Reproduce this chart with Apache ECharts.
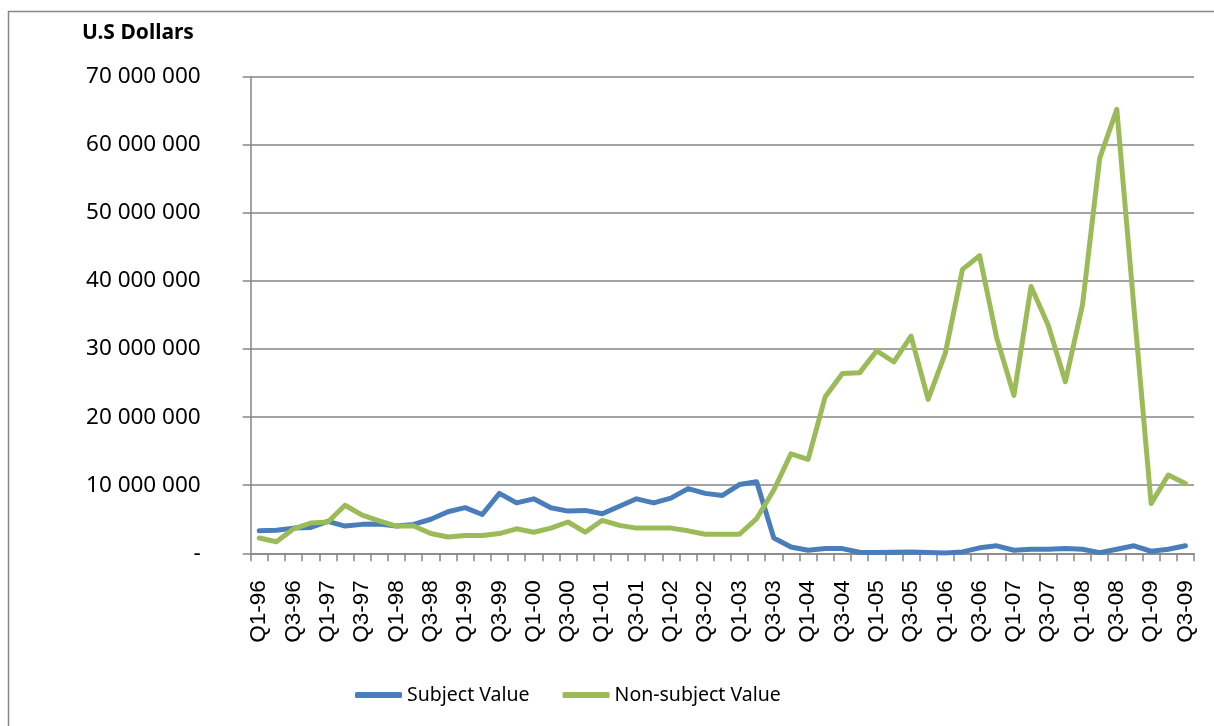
<!DOCTYPE html>
<html lang="en">
<head>
    <meta charset="utf-8">
    <title>Subject / Non-subject Value</title>
    <script src="https://cdn.jsdelivr.net/npm/echarts@6/dist/echarts.min.js"></script>
    <style>
        html, body { margin: 0; padding: 0; background: #fff; }
    </style>
</head>
<body>
<div id="main" style="width: 1214px;height:726px;"></div>

<script>
    // quarters Q1-96 .. Q3-09
    let quarters = [
        'Q1-96', 'Q2-96', 'Q3-96', 'Q4-96', 'Q1-97', 'Q2-97', 'Q3-97', 'Q4-97',
        'Q1-98', 'Q2-98', 'Q3-98', 'Q4-98', 'Q1-99', 'Q2-99', 'Q3-99', 'Q4-99',
        'Q1-00', 'Q2-00', 'Q3-00', 'Q4-00', 'Q1-01', 'Q2-01', 'Q3-01', 'Q4-01',
        'Q1-02', 'Q2-02', 'Q3-02', 'Q4-02', 'Q1-03', 'Q2-03', 'Q3-03', 'Q4-03',
        'Q1-04', 'Q2-04', 'Q3-04', 'Q4-04', 'Q1-05', 'Q2-05', 'Q3-05', 'Q4-05',
        'Q1-06', 'Q2-06', 'Q3-06', 'Q4-06', 'Q1-07', 'Q2-07', 'Q3-07', 'Q4-07',
        'Q1-08', 'Q2-08', 'Q3-08', 'Q4-08', 'Q1-09', 'Q2-09', 'Q3-09'
    ];

    // U.S dollars
    let subjectValue = [
        3300000, 3400000, 3700000, 3800000, 4700000, 4000000, 4250000, 4300000,
        4000000, 4250000, 5000000, 6100000, 6700000, 5700000, 8800000, 7400000,
        8000000, 6700000, 6200000, 6300000, 5800000, 6900000, 8000000, 7400000,
        8100000, 9500000, 8800000, 8500000, 10100000, 10500000, 2250000, 930000,
        440000, 690000, 690000, 150000, 100000, 150000, 200000, 100000,
        50000, 200000, 800000, 1100000, 450000, 600000, 600000, 700000,
        600000, 100000, 600000, 1100000, 300000, 600000, 1100000
    ];

    let nonSubjectValue = [
        2250000, 1700000, 3600000, 4450000, 4600000, 7060000, 5600000, 4750000,
        4000000, 4000000, 2900000, 2400000, 2600000, 2600000, 2900000, 3600000,
        3100000, 3700000, 4600000, 3100000, 4850000, 4100000, 3700000, 3700000,
        3700000, 3300000, 2800000, 2800000, 2800000, 5100000, 9300000, 14600000,
        13800000, 23000000, 26400000, 26500000, 29750000, 28100000, 31900000, 22600000,
        29400000, 41700000, 43700000, 31600000, 23200000, 39200000, 33500000, 25200000,
        36500000, 58000000, 65200000, 36000000, 7300000, 11500000, 10250000
    ];

    let gray = '#868686';

    function fmtDollars(v) {
        if (v === 0) return '-';
        return String(v).replace(/\B(?=(\d{3})+(?!\d))/g, ' ');
    }

    let myChart = echarts.init(document.getElementById('main'));

    let option = {
        animation: false,
        backgroundColor: '#fff',
        title: {
            text: 'U.S Dollars',
            left: 82,
            top: 21,
            padding: 0,
            textStyle: {
                fontFamily: 'Noto Sans',
                fontSize: 21,
                fontWeight: 'bold',
                color: '#000',
                lineHeight: 24
            }
        },
        graphic: [
            {
                type: 'rect',
                silent: true,
                shape: {x: 8.5, y: 11.5, width: 1400, height: 900},
                style: {fill: 'none', stroke: gray, lineWidth: 1.5}
            }
        ],
        legend: {
            left: 355,
            top: 683,
            padding: 0,
            itemWidth: 47,
            itemHeight: 6,
            itemGap: 33,
            icon: 'roundRect',
            textStyle: {
                fontFamily: 'Noto Sans',
                fontSize: 19.5,
                color: '#000',
                lineHeight: 24
            },
            data: ['Subject Value', 'Non-subject Value']
        },
        grid: {
            left: 250.7,
            right: 20,
            top: 76.7,
            bottom: 172.7,
            containLabel: false
        },
        xAxis: {
            type: 'category',
            boundaryGap: true,
            data: quarters,
            axisLine: {lineStyle: {color: gray, width: 1.5}},
            axisTick: {
                show: true,
                interval: 0,
                length: 8,
                alignWithLabel: false,
                lineStyle: {color: gray, width: 1.5}
            },
            axisLabel: {
                interval: 1,
                rotate: 90,
                margin: 27,
                fontFamily: 'Liberation Sans',
                fontSize: 22.5,
                color: '#000'
            },
            splitLine: {show: false}
        },
        yAxis: {
            type: 'value',
            min: 0,
            max: 70000000,
            interval: 10000000,
            axisLine: {show: true, lineStyle: {color: gray, width: 1.5}},
            axisTick: {show: true, length: 8, lineStyle: {color: gray, width: 1.5}},
            axisLabel: {
                margin: 50,
                fontFamily: 'Noto Sans',
                fontSize: 22.5,
                color: '#000',
                formatter: fmtDollars
            },
            splitLine: {lineStyle: {color: gray, width: 1.5}}
        },
        series: [
            {
                name: 'Subject Value',
                type: 'line',
                data: subjectValue,
                showSymbol: false,
                symbol: 'none',
                color: '#4a7ebb',
                lineStyle: {width: 5, color: '#4a7ebb', cap: 'round', join: 'round'}
            },
            {
                name: 'Non-subject Value',
                type: 'line',
                data: nonSubjectValue,
                showSymbol: false,
                symbol: 'none',
                color: '#9bbb59',
                lineStyle: {width: 5, color: '#9bbb59', cap: 'round', join: 'round'}
            }
        ]
    };
    myChart.setOption(option);
</script>
</body>
</html>
